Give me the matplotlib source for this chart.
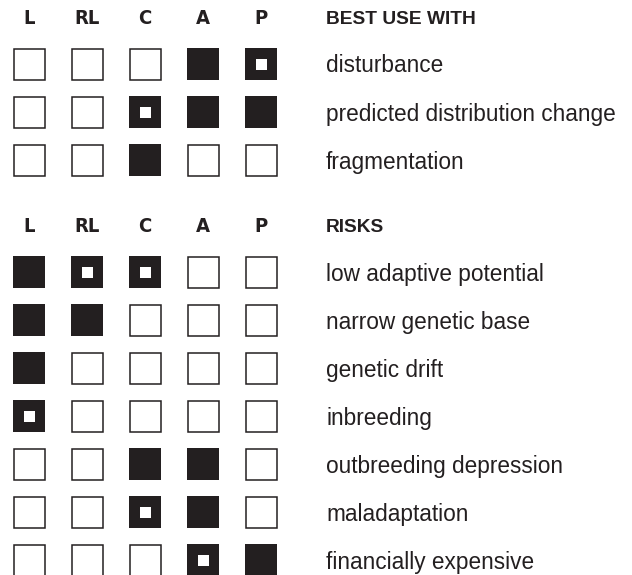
import matplotlib.pyplot as plt
from matplotlib.patches import Rectangle

# strategies (columns)
columns = ["L", "RL", "C", "A", "P"]

# 0 = empty box, 1 = filled box, 2 = filled box with white centre
best_title = "BEST USE WITH"
best_labels = ["disturbance", "predicted distribution change", "fragmentation"]
best_values = [
    [0, 0, 0, 1, 2],
    [0, 0, 2, 1, 1],
    [0, 0, 1, 0, 0],
]

risk_title = "RISKS"
risk_labels = ["low adaptive potential", "narrow genetic base", "genetic drift",
               "inbreeding", "outbreeding depression", "maladaptation",
               "financially expensive"]
risk_values = [
    [1, 2, 2, 0, 0],
    [1, 1, 0, 0, 0],
    [1, 0, 0, 0, 0],
    [2, 0, 0, 0, 0],
    [0, 0, 1, 1, 0],
    [0, 0, 2, 1, 0],
    [0, 0, 0, 2, 1],
]

DARK = "#231f20"
W, H = 632, 575
X0, DX = 29, 58          # column centres
DY = 48                  # row spacing
BOX, DOT = 32, 11
TEXT_X = 326

fig = plt.figure(figsize=(W / 100, H / 100), dpi=100)
ax = fig.add_axes([0, 0, 1, 1])
ax.set_xlim(0, W)
ax.set_ylim(H, 0)
ax.axis("off")

head_font = dict(family=["DejaVu Sans"], fontstretch="condensed", fontweight="bold",
                 fontsize=14.5, color=DARK, ha="center", va="baseline")
label_font = dict(family=["Liberation Sans", "DejaVu Sans"], fontsize=16.3,
                  color=DARK, ha="left", va="baseline")


def draw_section(y_head, title, labels, values):
    for j, c in enumerate(columns):
        ax.text(X0 + j * DX, y_head + 7, c, **head_font)
    ax.text(TEXT_X, y_head + 7, title, family=["Liberation Sans", "DejaVu Sans"],
            fontweight="bold", fontsize=13.8, color=DARK, ha="left", va="baseline")
    for i, (lab, row) in enumerate(zip(labels, values)):
        y = y_head + 47 + i * DY
        for j, v in enumerate(row):
            x = X0 + j * DX
            if v == 0:
                ax.add_patch(Rectangle((x - BOX / 2 + 0.5, y - BOX / 2 + 0.5), BOX - 1, BOX - 1,
                                       facecolor="white", edgecolor=DARK, lw=1.1))
            else:
                ax.add_patch(Rectangle((x - BOX / 2, y - BOX / 2), BOX, BOX,
                                       facecolor=DARK, edgecolor="none"))
                if v == 2:
                    ax.add_patch(Rectangle((x - DOT / 2, y - DOT / 2), DOT, DOT,
                                           facecolor="white", edgecolor="none"))
        ax.text(TEXT_X, y + 8.5, lab, **label_font)


draw_section(17, best_title, best_labels, best_values)
draw_section(225, risk_title, risk_labels, risk_values)

fig.savefig("out.png", dpi=100, facecolor="white")
